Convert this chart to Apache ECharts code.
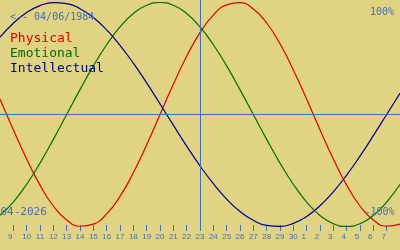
<!DOCTYPE html>
<html>
<head>
<meta charset="utf-8">
<script src="https://cdn.jsdelivr.net/npm/echarts@6/dist/echarts.min.js"></script>
<style>
html,body{margin:0;padding:0;background:#e0d383;}
#c{width:400px;height:250px;}
</style>
</head>
<body>
<div id="c"></div>
<script>
// Days shown: 8 April 2026 .. 8 May 2026
var days = ['2026-04-08','2026-04-09','2026-04-10','2026-04-11','2026-04-12','2026-04-13','2026-04-14','2026-04-15','2026-04-16','2026-04-17','2026-04-18','2026-04-19','2026-04-20','2026-04-21','2026-04-22','2026-04-23','2026-04-24','2026-04-25','2026-04-26','2026-04-27','2026-04-28','2026-04-29','2026-04-30','2026-05-01','2026-05-02','2026-05-03','2026-05-04','2026-05-05','2026-05-06','2026-05-07','2026-05-08'];
var today = '2026-04-23';
var seriesNames = ['Physical','Emotional','Intellectual'];
// values in percent
var physical = [13.6,-13.6,-39.8,-63.1,-81.7,-94.2,-99.8,-97.9,-88.8,-73.1,-52.0,-27.0,0,27.0,52.0,73.1,88.8,97.9,99.8,94.2,81.7,63.1,39.8,13.6,-13.6,-39.8,-63.1,-81.7,-94.2,-99.8,-97.9];
var emotional = [-90.1,-78.2,-62.3,-43.4,-22.2,0,22.2,43.4,62.3,78.2,90.1,97.5,100,97.5,90.1,78.2,62.3,43.4,22.2,0,-22.2,-43.4,-62.3,-78.2,-90.1,-97.5,-100,-97.5,-90.1,-78.2,-62.3];
var intellectual = [69.0,81.5,91.0,97.2,99.9,99.0,94.5,86.6,75.6,61.8,45.8,28.2,9.5,-9.5,-28.2,-45.8,-61.8,-75.6,-86.6,-94.5,-99.0,-99.9,-97.2,-91.0,-81.5,-69.0,-54.1,-37.2,-18.9,0,18.9];
var texts = {birth:'<-- 04/06/1984', month:'04-2026', top:'100%', bottom:'-100%'};

var BLUE = '#3f70bc';
var COLORS = ['#e00000','#006e00','#00008c'];
var MONO = '"DejaVu Sans Mono", "Liberation Mono", monospace';
var LBL = '"Liberation Sans Narrow", "Liberation Sans", sans-serif';
var chart = echarts.init(document.getElementById('c'));
var lastIdx = days.length - 1;
chart.setOption({
  backgroundColor: '#e0d383',
  animation: false,
  title: [
    {text: texts.birth, left: 10, top: 12, padding: 0, textStyle: {fontFamily: MONO, fontSize: 10, fontWeight: 'normal', color: BLUE}},
    {text: texts.top, right: 6, top: 7.5, padding: 0, textStyle: {fontFamily: MONO, fontSize: 10, fontWeight: 'normal', color: BLUE}},
    {text: texts.month, left: 0.5, top: 206.5, padding: 0, textStyle: {fontFamily: MONO, fontSize: 11, fontWeight: 'normal', color: BLUE}},
    {text: texts.bottom, right: 5.5, top: 207.5, padding: 0, textStyle: {fontFamily: MONO, fontSize: 10, fontWeight: 'normal', color: BLUE}}
  ],
  legend: {
    orient: 'vertical', left: 5, top: 32, padding: 0,
    itemWidth: 0, itemHeight: 13, itemGap: 2, icon: 'none',
    selectedMode: false,
    textStyle: {fontFamily: MONO, fontSize: 13},
    data: seriesNames.map(function (n, i) { return {name: n, icon: 'none', textStyle: {color: COLORS[i]}}; })
  },
  grid: {left: 0, right: 0, top: 0, bottom: 19},
  xAxis: {
    type: 'category', data: days, boundaryGap: false,
    axisLine: {show: false, onZero: false},
    splitLine: {show: false},
    axisTick: {show: true, inside: true, length: 6, lineStyle: {color: BLUE, width: 1},
      interval: function (i) { return i > 0 && i < lastIdx; }},
    axisLabel: {
      interval: function (i) { return i > 0 && i < lastIdx; },
      margin: 2, color: BLUE, fontSize: 8, fontFamily: LBL,
      formatter: function (v) {
        var d = String(parseInt(v.slice(8), 10));
        return d.length === 1 ? '{s|' + d + '}' : '{n|' + d + '}';
      },
      rich: {
        s: {padding: [0, 6, 0, 0], color: BLUE, fontSize: 8, fontFamily: LBL},
        n: {color: BLUE, fontSize: 8, fontFamily: LBL}
      }
    }
  },
  yAxis: {type: 'value', show: false, min: -104.02, max: 102.23, splitLine: {show: false}},
  series: [
    {name: seriesNames[0], type: 'line', data: physical, smooth: true, showSymbol: false, lineStyle: {color: COLORS[0], width: 1.2}, itemStyle: {color: COLORS[0]},
      markLine: {silent: true, symbol: 'none', label: {show: false}, lineStyle: {color: BLUE, width: 1, type: 'solid'},
        data: [{yAxis: 0}, {xAxis: today}]}},
    {name: seriesNames[1], type: 'line', data: emotional, smooth: true, showSymbol: false, lineStyle: {color: COLORS[1], width: 1.2}, itemStyle: {color: COLORS[1]}},
    {name: seriesNames[2], type: 'line', data: intellectual, smooth: true, showSymbol: false, lineStyle: {color: COLORS[2], width: 1.2}, itemStyle: {color: COLORS[2]}}
  ]
});
</script>
</body>
</html>
